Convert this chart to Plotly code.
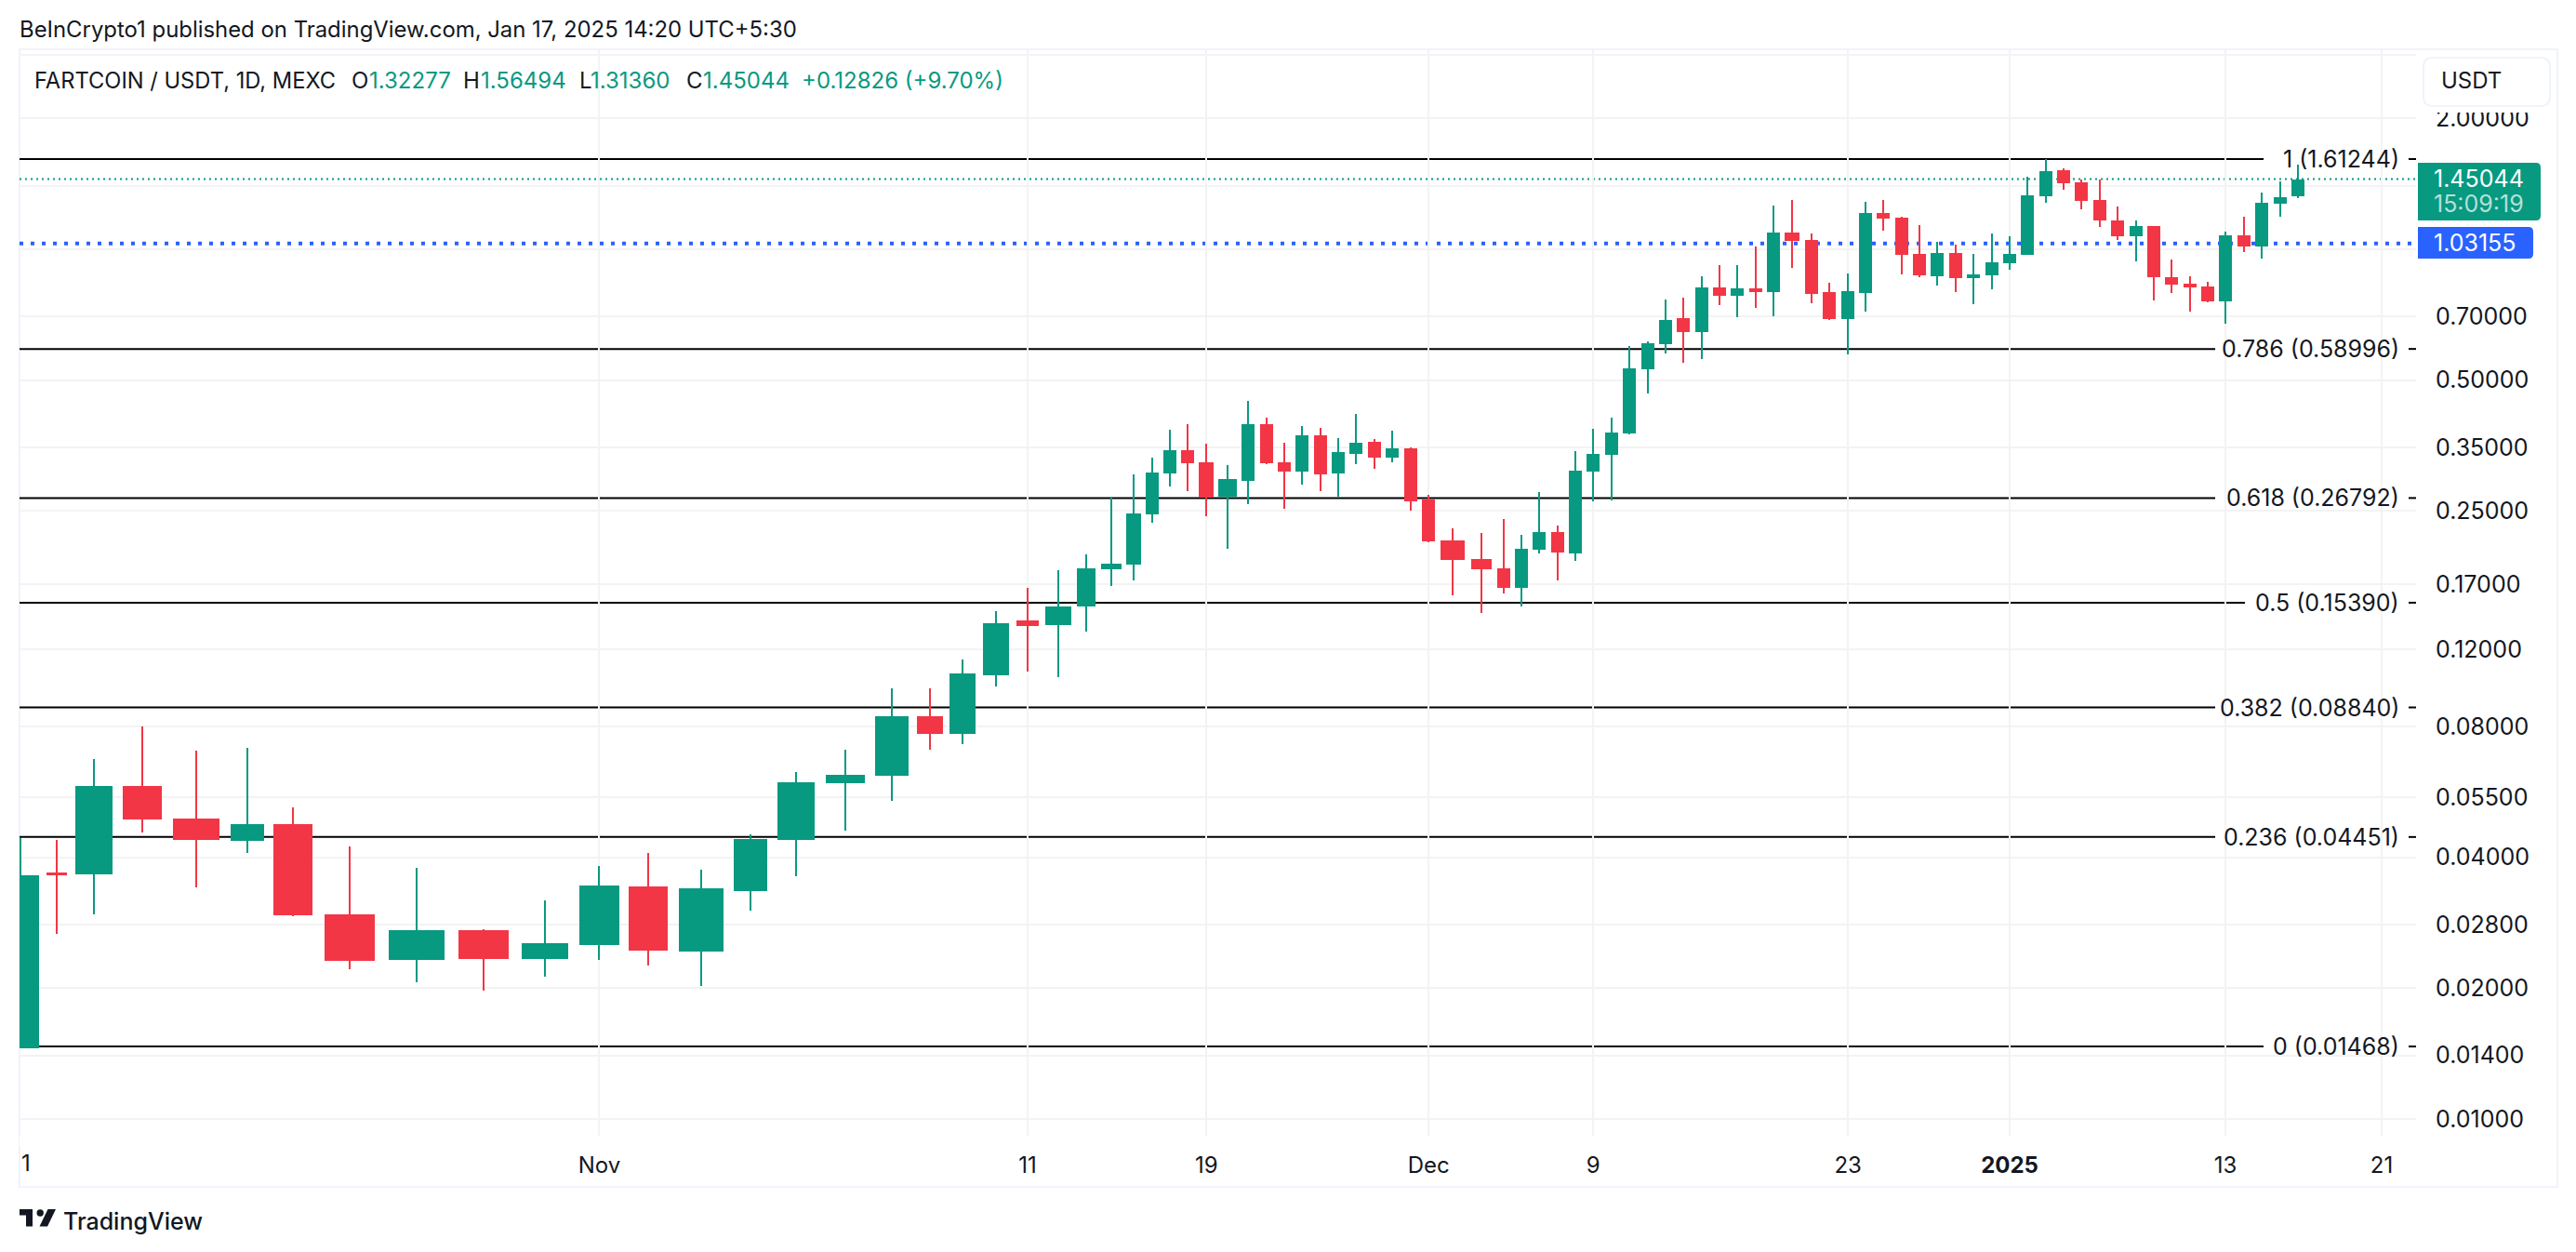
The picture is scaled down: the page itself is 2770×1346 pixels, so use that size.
import math
import plotly.graph_objects as go

# ---------- data ----------
bar_pos = [0.05,4.03,8.05,13.22,19.02,24.53,29.41,35.55,42.72,49.95,56.55,62.35,67.65,73.32,78.65,83.55,88.85,93.85,97.93,101.43,105.05,108.43,111.75,114.75,117.45,119.85,121.85,123.75,125.65,127.65,129.95,132.15,134.15,136.05,137.95,139.95,141.85,143.75,145.75,147.65,149.65,151.55,154.15,157.25,159.65,161.55,163.45,165.45,167.35,169.25,171.25,173.15,175.15,177.05,178.95,180.95,182.85,184.75,186.75,188.65,190.65,192.75,194.65,196.65,198.55,200.45,202.45,204.35,206.25,208.25,210.15,212.15,214.05,215.95,217.95,219.85,221.75,223.75,225.65,227.65,229.55,231.45,233.45,235.35,237.25,239.25,241.15,243.15,245.05]
bar_span = [4.0,2.2,4.0,4.2,5.0,3.6,4.2,5.4,6.0,5.4,5.0,4.25,4.2,4.8,3.6,4.0,4.2,3.6,2.8,2.8,2.8,2.4,2.8,2.0,2.2,1.6,1.4,1.4,1.4,1.6,2.0,1.4,1.4,1.4,1.4,1.4,1.4,1.4,1.4,1.4,1.4,1.4,2.6,2.2,1.4,1.4,1.4,1.4,1.4,1.4,1.4,1.4,1.4,1.4,1.4,1.4,1.4,1.4,1.4,1.4,1.6,1.4,1.4,1.4,1.4,1.4,1.4,1.4,1.4,1.4,1.4,1.4,1.4,1.4,1.4,1.4,1.4,1.4,1.4,1.4,1.4,1.4,1.4,1.4,1.4,1.4,1.4,1.4,1.4]
open_ = [.01454,.03688,.03652,.05831,.04908,.04361,.04765,.02955,.02322,.02718,.02333,.02512,.03426,.02427,.03342,.04382,.05918,.06156,.08437,.07683,.10479,.14013,.13672,.15087,.18372,.18831,.24568,.30513,.34512,.32371,.26978,.29334,.39615,.32371,.30815,.37341,.30513,.33838,.36076,.33178,.34853,.26582,.21403,.19395,.18463,.16649,.20375,.22373,.19977,.30815,.33672,.37711,.52974,.60508,.69456,.64509,.81714,.78171,.81312,.79726,1.09270,1.05048,.79726,.69114,.79334,1.21177,1.18229,.97567,.86689,.98048,.85839,.87117,.92878,.97087,1.32410,1.51990,1.42563,1.29827,1.16495,1.07138,1.13103,.86263,.83340,.82117,.75894,1.07667,1.01488,1.27294,1.32277]
close = [.03634,.03652,.05831,.04884,.04382,.04765,.02941,.02310,.02718,.02333,.02537,.03443,.02439,.03392,.04404,.05947,.06186,.08437,.07683,.10583,.13807,.13605,.15087,.18463,.18924,.24689,.30664,.34512,.32212,.26846,.29625,.39615,.32212,.30815,.37341,.30363,.34173,.35899,.33178,.34853,.26322,.21298,.19300,.18372,.16649,.20475,.22373,.20076,.30967,.33838,.37897,.53235,.60807,.68775,.64509,.81714,.78171,.81312,.79726,1.09270,1.04532,.78945,.69114,.80120,1.21177,1.17648,.97087,.87117,.98048,.85839,.87547,.93336,.97567,1.33064,1.51243,1.41863,1.29189,1.16495,1.07138,1.13103,.86263,.82930,.81714,.75894,1.07667,1.01488,1.27923,1.31760,1.45044]
high = [.04426,.04382,.06727,.07992,.07032,.07136,.05207,.04234,.03780,.02731,.03182,.03818,.04090,.03743,.04514,.06279,.07066,.09781,.09781,.11394,.14720,.16649,.18282,.19879,.26978,.30363,.33178,.38461,.39615,.35722,.31896,.44806,.41004,.35899,.39226,.38842,.36794,.41820,.36613,.38272,.35025,.27245,.22818,.22263,.23970,.22045,.27651,.23158,.34342,.38651,.41004,.59915,.61409,.76646,.77405,.86689,.91967,.91967,1.01488,1.26047,1.29827,1.08733,.83751,.87979,1.28554,1.29827,1.18813,1.13661,1.04018,1.02492,.97567,1.08733,1.07138,1.46839,1.61244,1.53494,1.44685,1.44685,1.25427,1.16495,1.13103,.94726,.86689,.84165,1.09809,1.18813,1.35045,1.43267,1.56494]
low = [.01454,.02665,.02955,.04558,.03409,.04090,.02926,.02210,.02063,.01973,.02125,.02322,.02254,.02022,.03014,.03616,.04604,.05389,.07066,.07278,.09878,.10687,.10376,.13208,.16814,.17318,.23503,.28480,.27787,.24327,.20475,.25936,.32054,.25305,.28762,.27787,.26978,.32054,.31274,.32371,.25057,.21193,.16006,.14576,.16164,.15087,.19977,.17318,.19205,.26322,.26452,.37526,.46606,.57600,.54832,.55923,.74414,.69799,.73322,.70143,.90618,.75151,.68775,.57317,.71892,1.10351,.87547,.86263,.82523,.79726,.74781,.80913,.89730,.97087,1.27923,1.37055,1.23588,1.12547,1.05048,.93797,.76269,.79334,.71892,.75522,.67433,.98532,.95193,1.18813,1.31360]

fib_levels = [1.61244,.58996,.26792,.15390,.08840,.04451,.01468]
fib_labels = ["1 (1.61244)","0.786 (0.58996)","0.618 (0.26792)","0.5 (0.15390)","0.382 (0.08840)","0.236 (0.04451)","0 (0.01468)"]
fib_line_end = [241.35,236.15,236.15,239.35,236.15,236.15,241.35]

price_ticks = [2.8,2,1.4,1,.7,.5,.35,.25,.17,.12,.08,.055,.04,.028,.02,.014,.01]
price_labels = ["","2.00000","","","0.70000","0.50000","0.35000","0.25000","0.17000","0.12000","0.08000","0.05500","0.04000","0.02800","0.02000","0.01400","0.01000"]
time_ticks = [0.05,62.35,108.43,127.65,151.55,169.25,196.65,214.05,237.25,254.05]
time_labels = ["","Nov","11","19","Dec","9","23","<b>2025</b>","13","21"]

last_price = 1.45044
mark_price = 1.03155

# ---------- style ----------
UP, DOWN, INK, GRID, FRAME, BLUE = "#089981", "#F23645", "#131722", "#f3f3f3", "#f0f3fa", "#2962FF"
FONT = "Inter"
W, H = 2770, 1346
L, R, T, B = 20.5, 2598, 54, 1221
X_MAX = (R - L) / 10
px = lambda v: (v - L) / (R - L)
py = lambda v: 1 - (v - T) / (B - T)

colors = [UP if c >= o else DOWN for o, c in zip(open_, close)]
fig = go.Figure()
fig.add_trace(go.Bar(x=bar_pos, base=low, y=[h - l for h, l in zip(high, low)], width=0.2,
                     marker=dict(color=colors, line=dict(width=0)), hoverinfo="skip", showlegend=False))
fig.add_trace(go.Bar(x=bar_pos, base=[min(o, c) for o, c in zip(open_, close)],
                     y=[abs(c - o) for o, c in zip(open_, close)], width=bar_span,
                     marker=dict(color=colors, line=dict(width=0)), hoverinfo="skip", showlegend=False))

shapes = []
# outer frame
shapes.append(dict(type="rect", xref="paper", yref="paper", x0=px(20.5), x1=px(2750), y0=py(53), y1=py(1276),
                   line=dict(color=FRAME, width=2), fillcolor="rgba(0,0,0,0)", layer="below"))
# fib levels
for lv, end in zip(fib_levels, fib_line_end):
    shapes.append(dict(type="line", xref="x", yref="y", x0=0, x1=end, y0=lv, y1=lv,
                       line=dict(color="black", width=2), layer="below"))
    shapes.append(dict(type="line", xref="x", yref="y", x0=256.95, x1=X_MAX, y0=lv, y1=lv,
                       line=dict(color="black", width=2), layer="below"))
# last / mark price
shapes.append(dict(type="line", xref="x", yref="y", x0=0, x1=X_MAX, y0=last_price, y1=last_price,
                   line=dict(color=UP, width=2, dash="2px,4px"), layer="below"))
shapes.append(dict(type="line", xref="x", yref="y", x0=0, x1=X_MAX, y0=mark_price, y1=mark_price,
                   line=dict(color=BLUE, width=4, dash="4px,8px"), layer="below"))

def rounded(x0, y0, x1, y1, rl, rr):
    X = lambda v: f"{px(v):.6f}"
    Y = lambda v: f"{py(v):.6f}"
    p = f"M {X(x0+rl)} {Y(y0)} L {X(x1-rr)} {Y(y0)} "
    p += f"Q {X(x1)} {Y(y0)} {X(x1)} {Y(y0+rr)} L {X(x1)} {Y(y1-rr)} Q {X(x1)} {Y(y1)} {X(x1-rr)} {Y(y1)} "
    p += f"L {X(x0+rl)} {Y(y1)} "
    if rl:
        p += f"Q {X(x0)} {Y(y1)} {X(x0)} {Y(y1-rl)} L {X(x0)} {Y(y0+rl)} Q {X(x0)} {Y(y0)} {X(x0+rl)} {Y(y0)} "
    return p + "Z"

# clip area above the price axis, currency button, price tags
shapes.append(dict(type="rect", xref="paper", yref="paper", x0=px(2600), x1=px(2748), y0=py(55), y1=py(121),
                   fillcolor="white", line=dict(width=0), layer="above"))
shapes.append(dict(type="path", xref="paper", yref="paper", path=rounded(2606, 62, 2742, 114, 10, 10),
                   fillcolor="white", line=dict(color=FRAME, width=2), layer="above"))
shapes.append(dict(type="path", xref="paper", yref="paper", path=rounded(2600, 175, 2732, 237, 0, 5),
                   fillcolor=UP, line=dict(width=0), layer="above"))
shapes.append(dict(type="path", xref="paper", yref="paper", path=rounded(2600, 244, 2724, 278, 0, 5),
                   fillcolor=BLUE, line=dict(width=0), layer="above"))

# TradingView mark
def poly(pts):
    return "M " + " L ".join(f"{px(a):.6f} {py(b):.6f}" for a, b in pts) + " Z"
shapes.append(dict(type="path", xref="paper", yref="paper", layer="above", fillcolor=INK, line=dict(width=0),
                   path=poly([(20.5,1300),(34.5,1300),(34.5,1318.5),(27.5,1318.5),(27.5,1306.5),(20.5,1306.5)])))
shapes.append(dict(type="path", xref="paper", yref="paper", layer="above", fillcolor=INK, line=dict(width=0),
                   path=poly([(51,1300),(59.5,1300),(50.5,1318.5),(42,1318.5)])))
shapes.append(dict(type="circle", xref="paper", yref="paper", layer="above", fillcolor=INK, line=dict(width=0),
                   x0=px(39), x1=px(46.4), y0=py(1300.3), y1=py(1307.7)))

ann = []
def text(s, x, y, size=24, color=INK, anchor="left", weight=None):
    f = dict(family=FONT, size=size, color=color)
    if weight:
        f["weight"] = weight
    ann.append(dict(xref="paper", yref="paper", x=px(x), y=py(y), text=s, showarrow=False, xanchor=anchor,
                    yanchor="middle", font=f, borderpad=0, borderwidth=0))

text("BeInCrypto1 published on TradingView.com, Jan 17, 2025 14:20 UTC+5:30", 21, 32, size=23.9)
text("FARTCOIN / USDT, 1D, MEXC", 36.5, 87, size=23.7)
for lab, lx, val, vx in [("O", 377.5, f"{open_[-1]:.5f}", 396.5), ("H", 497.5, f"{high[-1]:.5f}", 517),
                         ("L", 623, f"{low[-1]:.5f}", 635), ("C", 738, f"{close[-1]:.5f}", 756)]:
    text(lab, lx, 87)
    text(val, vx, 87, color=UP)
text("+0.12826 (+9.70%)", 862, 87, color=UP)
text("USDT", 2625, 87)
text(f"{last_price:.5f}", 2617, 192, size=25, color="white")
text("15:09:19", 2617, 219, size=25, color="#b5e0d8")
text(f"{mark_price:.5f}", 2617, 261, size=25, color="white")
text("1", 23, 1250)
text("TradingView", 68, 1312.5, size=25, weight=500)

for lv, lb in zip(fib_levels, fib_labels):
    ann.append(dict(xref="x", yref="y", x=256.1, y=math.log10(lv), text=lb, showarrow=False, xanchor="right",
                    yanchor="middle", font=dict(family=FONT, size=25, color=INK)))

fig.update_layout(
    width=W, height=H, autosize=False, margin=dict(l=L, r=W - R, t=T, b=H - B, pad=0),
    paper_bgcolor="white", plot_bgcolor="white", barmode="overlay", bargap=0,
    font=dict(family=FONT, size=24, color=INK), shapes=shapes, annotations=ann,
    xaxis=dict(range=[0, X_MAX], tickmode="array", tickvals=time_ticks, ticktext=time_labels, showgrid=True,
               gridcolor=GRID, gridwidth=2, zeroline=False, showline=False, ticks="outside", ticklen=10,
               tickcolor="white", tickwidth=1, fixedrange=True, tickangle=0, tickfont=dict(family=FONT, size=24, color=INK)),
    yaxis=dict(type="log", range=[-2.03851, 0.45775], side="right", tickmode="array", tickvals=price_ticks,
               ticktext=price_labels, showgrid=True, gridcolor=GRID, gridwidth=2, zeroline=False, showline=False,
               ticks="outside", ticklen=15, tickcolor="white", tickwidth=1, fixedrange=True,
               tickfont=dict(family=FONT, size=25, color=INK)),
)
fig.write_html("out.html", config={"displayModeBar": False}, post_script="document.body.style.margin='0';")
